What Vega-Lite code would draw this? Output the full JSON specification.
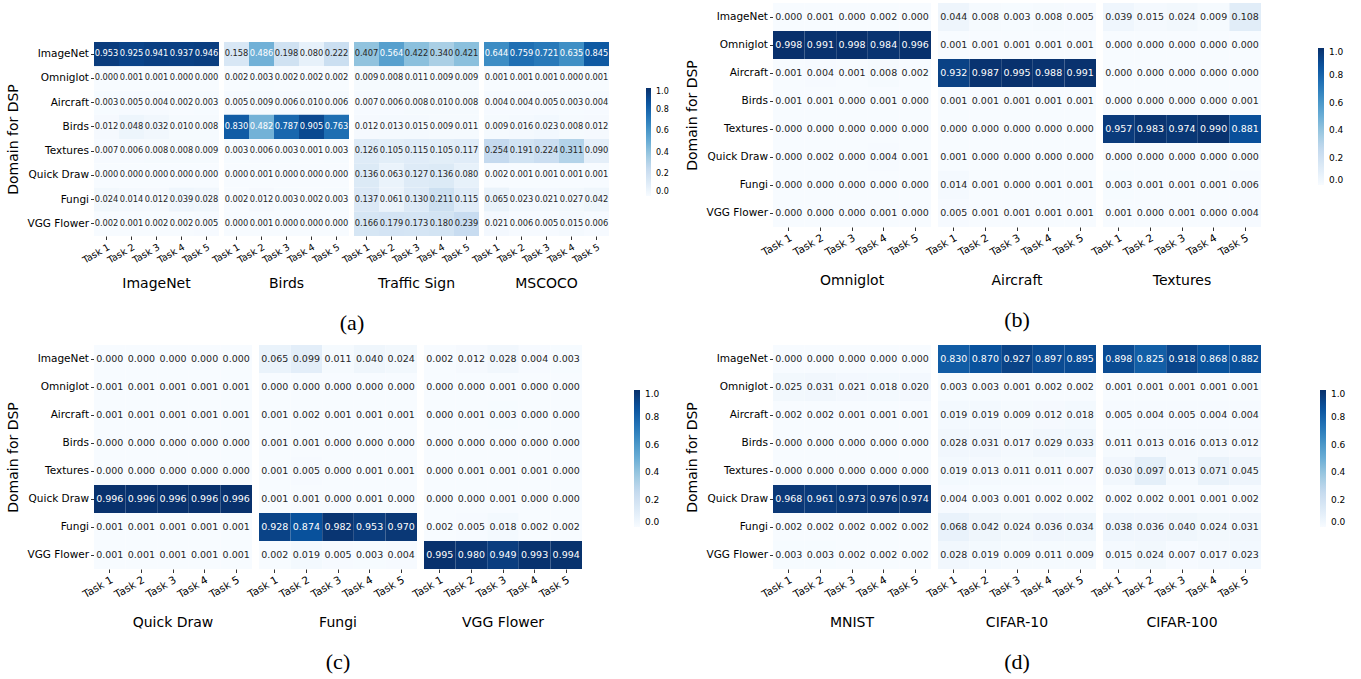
{
"$schema": "https://vega.github.io/schema/vega-lite/v6.json",
"padding": {"left": 6, "top": 3, "right": 5, "bottom": 3},
"background": "white",
"config": {
  "view": {"stroke": null},
  "font": "DejaVu Sans",
  "axis": {"domain": false, "grid": false, "ticks": true, "tickSize": 3.5, "tickColor": "#000", "tickWidth": 0.8, "labelColor": "#000", "labelFont": "DejaVu Sans", "labelFontSize": 10.5, "labelPadding": 2, "titleFont": "DejaVu Sans", "titleFontSize": 14, "titleFontWeight": "normal", "titleColor": "#000", "titlePadding": 3},
  "legend": {"labelFont": "DejaVu Sans", "labelColor": "#000"}
},
"datasets": {
"a": [
{"tgt":"ImageNet","src":"ImageNet","task":1,"v":0.953},{"tgt":"ImageNet","src":"ImageNet","task":2,"v":0.925},{"tgt":"ImageNet","src":"ImageNet","task":3,"v":0.941},{"tgt":"ImageNet","src":"ImageNet","task":4,"v":0.937},{"tgt":"ImageNet","src":"ImageNet","task":5,"v":0.946},
{"tgt":"ImageNet","src":"Omniglot","task":1,"v":0.000},{"tgt":"ImageNet","src":"Omniglot","task":2,"v":0.001},{"tgt":"ImageNet","src":"Omniglot","task":3,"v":0.001},{"tgt":"ImageNet","src":"Omniglot","task":4,"v":0.000},{"tgt":"ImageNet","src":"Omniglot","task":5,"v":0.000},
{"tgt":"ImageNet","src":"Aircraft","task":1,"v":0.003},{"tgt":"ImageNet","src":"Aircraft","task":2,"v":0.005},{"tgt":"ImageNet","src":"Aircraft","task":3,"v":0.004},{"tgt":"ImageNet","src":"Aircraft","task":4,"v":0.002},{"tgt":"ImageNet","src":"Aircraft","task":5,"v":0.003},
{"tgt":"ImageNet","src":"Birds","task":1,"v":0.012},{"tgt":"ImageNet","src":"Birds","task":2,"v":0.048},{"tgt":"ImageNet","src":"Birds","task":3,"v":0.032},{"tgt":"ImageNet","src":"Birds","task":4,"v":0.010},{"tgt":"ImageNet","src":"Birds","task":5,"v":0.008},
{"tgt":"ImageNet","src":"Textures","task":1,"v":0.007},{"tgt":"ImageNet","src":"Textures","task":2,"v":0.006},{"tgt":"ImageNet","src":"Textures","task":3,"v":0.008},{"tgt":"ImageNet","src":"Textures","task":4,"v":0.008},{"tgt":"ImageNet","src":"Textures","task":5,"v":0.009},
{"tgt":"ImageNet","src":"Quick Draw","task":1,"v":0.000},{"tgt":"ImageNet","src":"Quick Draw","task":2,"v":0.000},{"tgt":"ImageNet","src":"Quick Draw","task":3,"v":0.000},{"tgt":"ImageNet","src":"Quick Draw","task":4,"v":0.000},{"tgt":"ImageNet","src":"Quick Draw","task":5,"v":0.000},
{"tgt":"ImageNet","src":"Fungi","task":1,"v":0.024},{"tgt":"ImageNet","src":"Fungi","task":2,"v":0.014},{"tgt":"ImageNet","src":"Fungi","task":3,"v":0.012},{"tgt":"ImageNet","src":"Fungi","task":4,"v":0.039},{"tgt":"ImageNet","src":"Fungi","task":5,"v":0.028},
{"tgt":"ImageNet","src":"VGG Flower","task":1,"v":0.002},{"tgt":"ImageNet","src":"VGG Flower","task":2,"v":0.001},{"tgt":"ImageNet","src":"VGG Flower","task":3,"v":0.002},{"tgt":"ImageNet","src":"VGG Flower","task":4,"v":0.002},{"tgt":"ImageNet","src":"VGG Flower","task":5,"v":0.005},
{"tgt":"Birds","src":"ImageNet","task":1,"v":0.158},{"tgt":"Birds","src":"ImageNet","task":2,"v":0.486},{"tgt":"Birds","src":"ImageNet","task":3,"v":0.198},{"tgt":"Birds","src":"ImageNet","task":4,"v":0.080},{"tgt":"Birds","src":"ImageNet","task":5,"v":0.222},
{"tgt":"Birds","src":"Omniglot","task":1,"v":0.002},{"tgt":"Birds","src":"Omniglot","task":2,"v":0.003},{"tgt":"Birds","src":"Omniglot","task":3,"v":0.002},{"tgt":"Birds","src":"Omniglot","task":4,"v":0.002},{"tgt":"Birds","src":"Omniglot","task":5,"v":0.002},
{"tgt":"Birds","src":"Aircraft","task":1,"v":0.005},{"tgt":"Birds","src":"Aircraft","task":2,"v":0.009},{"tgt":"Birds","src":"Aircraft","task":3,"v":0.006},{"tgt":"Birds","src":"Aircraft","task":4,"v":0.010},{"tgt":"Birds","src":"Aircraft","task":5,"v":0.006},
{"tgt":"Birds","src":"Birds","task":1,"v":0.830},{"tgt":"Birds","src":"Birds","task":2,"v":0.482},{"tgt":"Birds","src":"Birds","task":3,"v":0.787},{"tgt":"Birds","src":"Birds","task":4,"v":0.905},{"tgt":"Birds","src":"Birds","task":5,"v":0.763},
{"tgt":"Birds","src":"Textures","task":1,"v":0.003},{"tgt":"Birds","src":"Textures","task":2,"v":0.006},{"tgt":"Birds","src":"Textures","task":3,"v":0.003},{"tgt":"Birds","src":"Textures","task":4,"v":0.001},{"tgt":"Birds","src":"Textures","task":5,"v":0.003},
{"tgt":"Birds","src":"Quick Draw","task":1,"v":0.000},{"tgt":"Birds","src":"Quick Draw","task":2,"v":0.001},{"tgt":"Birds","src":"Quick Draw","task":3,"v":0.000},{"tgt":"Birds","src":"Quick Draw","task":4,"v":0.000},{"tgt":"Birds","src":"Quick Draw","task":5,"v":0.000},
{"tgt":"Birds","src":"Fungi","task":1,"v":0.002},{"tgt":"Birds","src":"Fungi","task":2,"v":0.012},{"tgt":"Birds","src":"Fungi","task":3,"v":0.003},{"tgt":"Birds","src":"Fungi","task":4,"v":0.002},{"tgt":"Birds","src":"Fungi","task":5,"v":0.003},
{"tgt":"Birds","src":"VGG Flower","task":1,"v":0.000},{"tgt":"Birds","src":"VGG Flower","task":2,"v":0.001},{"tgt":"Birds","src":"VGG Flower","task":3,"v":0.000},{"tgt":"Birds","src":"VGG Flower","task":4,"v":0.000},{"tgt":"Birds","src":"VGG Flower","task":5,"v":0.000},
{"tgt":"Traffic Sign","src":"ImageNet","task":1,"v":0.407},{"tgt":"Traffic Sign","src":"ImageNet","task":2,"v":0.564},{"tgt":"Traffic Sign","src":"ImageNet","task":3,"v":0.422},{"tgt":"Traffic Sign","src":"ImageNet","task":4,"v":0.340},{"tgt":"Traffic Sign","src":"ImageNet","task":5,"v":0.421},
{"tgt":"Traffic Sign","src":"Omniglot","task":1,"v":0.009},{"tgt":"Traffic Sign","src":"Omniglot","task":2,"v":0.008},{"tgt":"Traffic Sign","src":"Omniglot","task":3,"v":0.011},{"tgt":"Traffic Sign","src":"Omniglot","task":4,"v":0.009},{"tgt":"Traffic Sign","src":"Omniglot","task":5,"v":0.009},
{"tgt":"Traffic Sign","src":"Aircraft","task":1,"v":0.007},{"tgt":"Traffic Sign","src":"Aircraft","task":2,"v":0.006},{"tgt":"Traffic Sign","src":"Aircraft","task":3,"v":0.008},{"tgt":"Traffic Sign","src":"Aircraft","task":4,"v":0.010},{"tgt":"Traffic Sign","src":"Aircraft","task":5,"v":0.008},
{"tgt":"Traffic Sign","src":"Birds","task":1,"v":0.012},{"tgt":"Traffic Sign","src":"Birds","task":2,"v":0.013},{"tgt":"Traffic Sign","src":"Birds","task":3,"v":0.015},{"tgt":"Traffic Sign","src":"Birds","task":4,"v":0.009},{"tgt":"Traffic Sign","src":"Birds","task":5,"v":0.011},
{"tgt":"Traffic Sign","src":"Textures","task":1,"v":0.126},{"tgt":"Traffic Sign","src":"Textures","task":2,"v":0.105},{"tgt":"Traffic Sign","src":"Textures","task":3,"v":0.115},{"tgt":"Traffic Sign","src":"Textures","task":4,"v":0.105},{"tgt":"Traffic Sign","src":"Textures","task":5,"v":0.117},
{"tgt":"Traffic Sign","src":"Quick Draw","task":1,"v":0.136},{"tgt":"Traffic Sign","src":"Quick Draw","task":2,"v":0.063},{"tgt":"Traffic Sign","src":"Quick Draw","task":3,"v":0.127},{"tgt":"Traffic Sign","src":"Quick Draw","task":4,"v":0.136},{"tgt":"Traffic Sign","src":"Quick Draw","task":5,"v":0.080},
{"tgt":"Traffic Sign","src":"Fungi","task":1,"v":0.137},{"tgt":"Traffic Sign","src":"Fungi","task":2,"v":0.061},{"tgt":"Traffic Sign","src":"Fungi","task":3,"v":0.130},{"tgt":"Traffic Sign","src":"Fungi","task":4,"v":0.211},{"tgt":"Traffic Sign","src":"Fungi","task":5,"v":0.115},
{"tgt":"Traffic Sign","src":"VGG Flower","task":1,"v":0.166},{"tgt":"Traffic Sign","src":"VGG Flower","task":2,"v":0.179},{"tgt":"Traffic Sign","src":"VGG Flower","task":3,"v":0.173},{"tgt":"Traffic Sign","src":"VGG Flower","task":4,"v":0.180},{"tgt":"Traffic Sign","src":"VGG Flower","task":5,"v":0.239},
{"tgt":"MSCOCO","src":"ImageNet","task":1,"v":0.644},{"tgt":"MSCOCO","src":"ImageNet","task":2,"v":0.759},{"tgt":"MSCOCO","src":"ImageNet","task":3,"v":0.721},{"tgt":"MSCOCO","src":"ImageNet","task":4,"v":0.635},{"tgt":"MSCOCO","src":"ImageNet","task":5,"v":0.845},
{"tgt":"MSCOCO","src":"Omniglot","task":1,"v":0.001},{"tgt":"MSCOCO","src":"Omniglot","task":2,"v":0.001},{"tgt":"MSCOCO","src":"Omniglot","task":3,"v":0.001},{"tgt":"MSCOCO","src":"Omniglot","task":4,"v":0.000},{"tgt":"MSCOCO","src":"Omniglot","task":5,"v":0.001},
{"tgt":"MSCOCO","src":"Aircraft","task":1,"v":0.004},{"tgt":"MSCOCO","src":"Aircraft","task":2,"v":0.004},{"tgt":"MSCOCO","src":"Aircraft","task":3,"v":0.005},{"tgt":"MSCOCO","src":"Aircraft","task":4,"v":0.003},{"tgt":"MSCOCO","src":"Aircraft","task":5,"v":0.004},
{"tgt":"MSCOCO","src":"Birds","task":1,"v":0.009},{"tgt":"MSCOCO","src":"Birds","task":2,"v":0.016},{"tgt":"MSCOCO","src":"Birds","task":3,"v":0.023},{"tgt":"MSCOCO","src":"Birds","task":4,"v":0.008},{"tgt":"MSCOCO","src":"Birds","task":5,"v":0.012},
{"tgt":"MSCOCO","src":"Textures","task":1,"v":0.254},{"tgt":"MSCOCO","src":"Textures","task":2,"v":0.191},{"tgt":"MSCOCO","src":"Textures","task":3,"v":0.224},{"tgt":"MSCOCO","src":"Textures","task":4,"v":0.311},{"tgt":"MSCOCO","src":"Textures","task":5,"v":0.090},
{"tgt":"MSCOCO","src":"Quick Draw","task":1,"v":0.002},{"tgt":"MSCOCO","src":"Quick Draw","task":2,"v":0.001},{"tgt":"MSCOCO","src":"Quick Draw","task":3,"v":0.001},{"tgt":"MSCOCO","src":"Quick Draw","task":4,"v":0.001},{"tgt":"MSCOCO","src":"Quick Draw","task":5,"v":0.001},
{"tgt":"MSCOCO","src":"Fungi","task":1,"v":0.065},{"tgt":"MSCOCO","src":"Fungi","task":2,"v":0.023},{"tgt":"MSCOCO","src":"Fungi","task":3,"v":0.021},{"tgt":"MSCOCO","src":"Fungi","task":4,"v":0.027},{"tgt":"MSCOCO","src":"Fungi","task":5,"v":0.042},
{"tgt":"MSCOCO","src":"VGG Flower","task":1,"v":0.021},{"tgt":"MSCOCO","src":"VGG Flower","task":2,"v":0.006},{"tgt":"MSCOCO","src":"VGG Flower","task":3,"v":0.005},{"tgt":"MSCOCO","src":"VGG Flower","task":4,"v":0.015},{"tgt":"MSCOCO","src":"VGG Flower","task":5,"v":0.006}
],
"b": [
{"tgt":"Omniglot","src":"ImageNet","task":1,"v":0.000},{"tgt":"Omniglot","src":"ImageNet","task":2,"v":0.001},{"tgt":"Omniglot","src":"ImageNet","task":3,"v":0.000},{"tgt":"Omniglot","src":"ImageNet","task":4,"v":0.002},{"tgt":"Omniglot","src":"ImageNet","task":5,"v":0.000},
{"tgt":"Omniglot","src":"Omniglot","task":1,"v":0.998},{"tgt":"Omniglot","src":"Omniglot","task":2,"v":0.991},{"tgt":"Omniglot","src":"Omniglot","task":3,"v":0.998},{"tgt":"Omniglot","src":"Omniglot","task":4,"v":0.984},{"tgt":"Omniglot","src":"Omniglot","task":5,"v":0.996},
{"tgt":"Omniglot","src":"Aircraft","task":1,"v":0.001},{"tgt":"Omniglot","src":"Aircraft","task":2,"v":0.004},{"tgt":"Omniglot","src":"Aircraft","task":3,"v":0.001},{"tgt":"Omniglot","src":"Aircraft","task":4,"v":0.008},{"tgt":"Omniglot","src":"Aircraft","task":5,"v":0.002},
{"tgt":"Omniglot","src":"Birds","task":1,"v":0.001},{"tgt":"Omniglot","src":"Birds","task":2,"v":0.001},{"tgt":"Omniglot","src":"Birds","task":3,"v":0.000},{"tgt":"Omniglot","src":"Birds","task":4,"v":0.001},{"tgt":"Omniglot","src":"Birds","task":5,"v":0.000},
{"tgt":"Omniglot","src":"Textures","task":1,"v":0.000},{"tgt":"Omniglot","src":"Textures","task":2,"v":0.000},{"tgt":"Omniglot","src":"Textures","task":3,"v":0.000},{"tgt":"Omniglot","src":"Textures","task":4,"v":0.000},{"tgt":"Omniglot","src":"Textures","task":5,"v":0.000},
{"tgt":"Omniglot","src":"Quick Draw","task":1,"v":0.000},{"tgt":"Omniglot","src":"Quick Draw","task":2,"v":0.002},{"tgt":"Omniglot","src":"Quick Draw","task":3,"v":0.000},{"tgt":"Omniglot","src":"Quick Draw","task":4,"v":0.004},{"tgt":"Omniglot","src":"Quick Draw","task":5,"v":0.001},
{"tgt":"Omniglot","src":"Fungi","task":1,"v":0.000},{"tgt":"Omniglot","src":"Fungi","task":2,"v":0.000},{"tgt":"Omniglot","src":"Fungi","task":3,"v":0.000},{"tgt":"Omniglot","src":"Fungi","task":4,"v":0.000},{"tgt":"Omniglot","src":"Fungi","task":5,"v":0.000},
{"tgt":"Omniglot","src":"VGG Flower","task":1,"v":0.000},{"tgt":"Omniglot","src":"VGG Flower","task":2,"v":0.000},{"tgt":"Omniglot","src":"VGG Flower","task":3,"v":0.000},{"tgt":"Omniglot","src":"VGG Flower","task":4,"v":0.001},{"tgt":"Omniglot","src":"VGG Flower","task":5,"v":0.000},
{"tgt":"Aircraft","src":"ImageNet","task":1,"v":0.044},{"tgt":"Aircraft","src":"ImageNet","task":2,"v":0.008},{"tgt":"Aircraft","src":"ImageNet","task":3,"v":0.003},{"tgt":"Aircraft","src":"ImageNet","task":4,"v":0.008},{"tgt":"Aircraft","src":"ImageNet","task":5,"v":0.005},
{"tgt":"Aircraft","src":"Omniglot","task":1,"v":0.001},{"tgt":"Aircraft","src":"Omniglot","task":2,"v":0.001},{"tgt":"Aircraft","src":"Omniglot","task":3,"v":0.001},{"tgt":"Aircraft","src":"Omniglot","task":4,"v":0.001},{"tgt":"Aircraft","src":"Omniglot","task":5,"v":0.001},
{"tgt":"Aircraft","src":"Aircraft","task":1,"v":0.932},{"tgt":"Aircraft","src":"Aircraft","task":2,"v":0.987},{"tgt":"Aircraft","src":"Aircraft","task":3,"v":0.995},{"tgt":"Aircraft","src":"Aircraft","task":4,"v":0.988},{"tgt":"Aircraft","src":"Aircraft","task":5,"v":0.991},
{"tgt":"Aircraft","src":"Birds","task":1,"v":0.001},{"tgt":"Aircraft","src":"Birds","task":2,"v":0.001},{"tgt":"Aircraft","src":"Birds","task":3,"v":0.001},{"tgt":"Aircraft","src":"Birds","task":4,"v":0.001},{"tgt":"Aircraft","src":"Birds","task":5,"v":0.001},
{"tgt":"Aircraft","src":"Textures","task":1,"v":0.000},{"tgt":"Aircraft","src":"Textures","task":2,"v":0.000},{"tgt":"Aircraft","src":"Textures","task":3,"v":0.000},{"tgt":"Aircraft","src":"Textures","task":4,"v":0.000},{"tgt":"Aircraft","src":"Textures","task":5,"v":0.000},
{"tgt":"Aircraft","src":"Quick Draw","task":1,"v":0.001},{"tgt":"Aircraft","src":"Quick Draw","task":2,"v":0.000},{"tgt":"Aircraft","src":"Quick Draw","task":3,"v":0.000},{"tgt":"Aircraft","src":"Quick Draw","task":4,"v":0.000},{"tgt":"Aircraft","src":"Quick Draw","task":5,"v":0.000},
{"tgt":"Aircraft","src":"Fungi","task":1,"v":0.014},{"tgt":"Aircraft","src":"Fungi","task":2,"v":0.001},{"tgt":"Aircraft","src":"Fungi","task":3,"v":0.000},{"tgt":"Aircraft","src":"Fungi","task":4,"v":0.001},{"tgt":"Aircraft","src":"Fungi","task":5,"v":0.001},
{"tgt":"Aircraft","src":"VGG Flower","task":1,"v":0.005},{"tgt":"Aircraft","src":"VGG Flower","task":2,"v":0.001},{"tgt":"Aircraft","src":"VGG Flower","task":3,"v":0.001},{"tgt":"Aircraft","src":"VGG Flower","task":4,"v":0.001},{"tgt":"Aircraft","src":"VGG Flower","task":5,"v":0.001},
{"tgt":"Textures","src":"ImageNet","task":1,"v":0.039},{"tgt":"Textures","src":"ImageNet","task":2,"v":0.015},{"tgt":"Textures","src":"ImageNet","task":3,"v":0.024},{"tgt":"Textures","src":"ImageNet","task":4,"v":0.009},{"tgt":"Textures","src":"ImageNet","task":5,"v":0.108},
{"tgt":"Textures","src":"Omniglot","task":1,"v":0.000},{"tgt":"Textures","src":"Omniglot","task":2,"v":0.000},{"tgt":"Textures","src":"Omniglot","task":3,"v":0.000},{"tgt":"Textures","src":"Omniglot","task":4,"v":0.000},{"tgt":"Textures","src":"Omniglot","task":5,"v":0.000},
{"tgt":"Textures","src":"Aircraft","task":1,"v":0.000},{"tgt":"Textures","src":"Aircraft","task":2,"v":0.000},{"tgt":"Textures","src":"Aircraft","task":3,"v":0.000},{"tgt":"Textures","src":"Aircraft","task":4,"v":0.000},{"tgt":"Textures","src":"Aircraft","task":5,"v":0.000},
{"tgt":"Textures","src":"Birds","task":1,"v":0.000},{"tgt":"Textures","src":"Birds","task":2,"v":0.000},{"tgt":"Textures","src":"Birds","task":3,"v":0.000},{"tgt":"Textures","src":"Birds","task":4,"v":0.000},{"tgt":"Textures","src":"Birds","task":5,"v":0.001},
{"tgt":"Textures","src":"Textures","task":1,"v":0.957},{"tgt":"Textures","src":"Textures","task":2,"v":0.983},{"tgt":"Textures","src":"Textures","task":3,"v":0.974},{"tgt":"Textures","src":"Textures","task":4,"v":0.990},{"tgt":"Textures","src":"Textures","task":5,"v":0.881},
{"tgt":"Textures","src":"Quick Draw","task":1,"v":0.000},{"tgt":"Textures","src":"Quick Draw","task":2,"v":0.000},{"tgt":"Textures","src":"Quick Draw","task":3,"v":0.000},{"tgt":"Textures","src":"Quick Draw","task":4,"v":0.000},{"tgt":"Textures","src":"Quick Draw","task":5,"v":0.000},
{"tgt":"Textures","src":"Fungi","task":1,"v":0.003},{"tgt":"Textures","src":"Fungi","task":2,"v":0.001},{"tgt":"Textures","src":"Fungi","task":3,"v":0.001},{"tgt":"Textures","src":"Fungi","task":4,"v":0.001},{"tgt":"Textures","src":"Fungi","task":5,"v":0.006},
{"tgt":"Textures","src":"VGG Flower","task":1,"v":0.001},{"tgt":"Textures","src":"VGG Flower","task":2,"v":0.000},{"tgt":"Textures","src":"VGG Flower","task":3,"v":0.001},{"tgt":"Textures","src":"VGG Flower","task":4,"v":0.000},{"tgt":"Textures","src":"VGG Flower","task":5,"v":0.004}
],
"c": [
{"tgt":"Quick Draw","src":"ImageNet","task":1,"v":0.000},{"tgt":"Quick Draw","src":"ImageNet","task":2,"v":0.000},{"tgt":"Quick Draw","src":"ImageNet","task":3,"v":0.000},{"tgt":"Quick Draw","src":"ImageNet","task":4,"v":0.000},{"tgt":"Quick Draw","src":"ImageNet","task":5,"v":0.000},
{"tgt":"Quick Draw","src":"Omniglot","task":1,"v":0.001},{"tgt":"Quick Draw","src":"Omniglot","task":2,"v":0.001},{"tgt":"Quick Draw","src":"Omniglot","task":3,"v":0.001},{"tgt":"Quick Draw","src":"Omniglot","task":4,"v":0.001},{"tgt":"Quick Draw","src":"Omniglot","task":5,"v":0.001},
{"tgt":"Quick Draw","src":"Aircraft","task":1,"v":0.001},{"tgt":"Quick Draw","src":"Aircraft","task":2,"v":0.001},{"tgt":"Quick Draw","src":"Aircraft","task":3,"v":0.001},{"tgt":"Quick Draw","src":"Aircraft","task":4,"v":0.001},{"tgt":"Quick Draw","src":"Aircraft","task":5,"v":0.001},
{"tgt":"Quick Draw","src":"Birds","task":1,"v":0.000},{"tgt":"Quick Draw","src":"Birds","task":2,"v":0.000},{"tgt":"Quick Draw","src":"Birds","task":3,"v":0.000},{"tgt":"Quick Draw","src":"Birds","task":4,"v":0.000},{"tgt":"Quick Draw","src":"Birds","task":5,"v":0.000},
{"tgt":"Quick Draw","src":"Textures","task":1,"v":0.000},{"tgt":"Quick Draw","src":"Textures","task":2,"v":0.000},{"tgt":"Quick Draw","src":"Textures","task":3,"v":0.000},{"tgt":"Quick Draw","src":"Textures","task":4,"v":0.000},{"tgt":"Quick Draw","src":"Textures","task":5,"v":0.000},
{"tgt":"Quick Draw","src":"Quick Draw","task":1,"v":0.996},{"tgt":"Quick Draw","src":"Quick Draw","task":2,"v":0.996},{"tgt":"Quick Draw","src":"Quick Draw","task":3,"v":0.996},{"tgt":"Quick Draw","src":"Quick Draw","task":4,"v":0.996},{"tgt":"Quick Draw","src":"Quick Draw","task":5,"v":0.996},
{"tgt":"Quick Draw","src":"Fungi","task":1,"v":0.001},{"tgt":"Quick Draw","src":"Fungi","task":2,"v":0.001},{"tgt":"Quick Draw","src":"Fungi","task":3,"v":0.001},{"tgt":"Quick Draw","src":"Fungi","task":4,"v":0.001},{"tgt":"Quick Draw","src":"Fungi","task":5,"v":0.001},
{"tgt":"Quick Draw","src":"VGG Flower","task":1,"v":0.001},{"tgt":"Quick Draw","src":"VGG Flower","task":2,"v":0.001},{"tgt":"Quick Draw","src":"VGG Flower","task":3,"v":0.001},{"tgt":"Quick Draw","src":"VGG Flower","task":4,"v":0.001},{"tgt":"Quick Draw","src":"VGG Flower","task":5,"v":0.001},
{"tgt":"Fungi","src":"ImageNet","task":1,"v":0.065},{"tgt":"Fungi","src":"ImageNet","task":2,"v":0.099},{"tgt":"Fungi","src":"ImageNet","task":3,"v":0.011},{"tgt":"Fungi","src":"ImageNet","task":4,"v":0.040},{"tgt":"Fungi","src":"ImageNet","task":5,"v":0.024},
{"tgt":"Fungi","src":"Omniglot","task":1,"v":0.000},{"tgt":"Fungi","src":"Omniglot","task":2,"v":0.000},{"tgt":"Fungi","src":"Omniglot","task":3,"v":0.000},{"tgt":"Fungi","src":"Omniglot","task":4,"v":0.000},{"tgt":"Fungi","src":"Omniglot","task":5,"v":0.000},
{"tgt":"Fungi","src":"Aircraft","task":1,"v":0.001},{"tgt":"Fungi","src":"Aircraft","task":2,"v":0.002},{"tgt":"Fungi","src":"Aircraft","task":3,"v":0.001},{"tgt":"Fungi","src":"Aircraft","task":4,"v":0.001},{"tgt":"Fungi","src":"Aircraft","task":5,"v":0.001},
{"tgt":"Fungi","src":"Birds","task":1,"v":0.001},{"tgt":"Fungi","src":"Birds","task":2,"v":0.001},{"tgt":"Fungi","src":"Birds","task":3,"v":0.000},{"tgt":"Fungi","src":"Birds","task":4,"v":0.000},{"tgt":"Fungi","src":"Birds","task":5,"v":0.000},
{"tgt":"Fungi","src":"Textures","task":1,"v":0.001},{"tgt":"Fungi","src":"Textures","task":2,"v":0.005},{"tgt":"Fungi","src":"Textures","task":3,"v":0.000},{"tgt":"Fungi","src":"Textures","task":4,"v":0.001},{"tgt":"Fungi","src":"Textures","task":5,"v":0.001},
{"tgt":"Fungi","src":"Quick Draw","task":1,"v":0.001},{"tgt":"Fungi","src":"Quick Draw","task":2,"v":0.001},{"tgt":"Fungi","src":"Quick Draw","task":3,"v":0.000},{"tgt":"Fungi","src":"Quick Draw","task":4,"v":0.001},{"tgt":"Fungi","src":"Quick Draw","task":5,"v":0.000},
{"tgt":"Fungi","src":"Fungi","task":1,"v":0.928},{"tgt":"Fungi","src":"Fungi","task":2,"v":0.874},{"tgt":"Fungi","src":"Fungi","task":3,"v":0.982},{"tgt":"Fungi","src":"Fungi","task":4,"v":0.953},{"tgt":"Fungi","src":"Fungi","task":5,"v":0.970},
{"tgt":"Fungi","src":"VGG Flower","task":1,"v":0.002},{"tgt":"Fungi","src":"VGG Flower","task":2,"v":0.019},{"tgt":"Fungi","src":"VGG Flower","task":3,"v":0.005},{"tgt":"Fungi","src":"VGG Flower","task":4,"v":0.003},{"tgt":"Fungi","src":"VGG Flower","task":5,"v":0.004},
{"tgt":"VGG Flower","src":"ImageNet","task":1,"v":0.002},{"tgt":"VGG Flower","src":"ImageNet","task":2,"v":0.012},{"tgt":"VGG Flower","src":"ImageNet","task":3,"v":0.028},{"tgt":"VGG Flower","src":"ImageNet","task":4,"v":0.004},{"tgt":"VGG Flower","src":"ImageNet","task":5,"v":0.003},
{"tgt":"VGG Flower","src":"Omniglot","task":1,"v":0.000},{"tgt":"VGG Flower","src":"Omniglot","task":2,"v":0.000},{"tgt":"VGG Flower","src":"Omniglot","task":3,"v":0.001},{"tgt":"VGG Flower","src":"Omniglot","task":4,"v":0.000},{"tgt":"VGG Flower","src":"Omniglot","task":5,"v":0.000},
{"tgt":"VGG Flower","src":"Aircraft","task":1,"v":0.000},{"tgt":"VGG Flower","src":"Aircraft","task":2,"v":0.001},{"tgt":"VGG Flower","src":"Aircraft","task":3,"v":0.003},{"tgt":"VGG Flower","src":"Aircraft","task":4,"v":0.000},{"tgt":"VGG Flower","src":"Aircraft","task":5,"v":0.000},
{"tgt":"VGG Flower","src":"Birds","task":1,"v":0.000},{"tgt":"VGG Flower","src":"Birds","task":2,"v":0.000},{"tgt":"VGG Flower","src":"Birds","task":3,"v":0.000},{"tgt":"VGG Flower","src":"Birds","task":4,"v":0.000},{"tgt":"VGG Flower","src":"Birds","task":5,"v":0.000},
{"tgt":"VGG Flower","src":"Textures","task":1,"v":0.000},{"tgt":"VGG Flower","src":"Textures","task":2,"v":0.001},{"tgt":"VGG Flower","src":"Textures","task":3,"v":0.001},{"tgt":"VGG Flower","src":"Textures","task":4,"v":0.001},{"tgt":"VGG Flower","src":"Textures","task":5,"v":0.000},
{"tgt":"VGG Flower","src":"Quick Draw","task":1,"v":0.000},{"tgt":"VGG Flower","src":"Quick Draw","task":2,"v":0.000},{"tgt":"VGG Flower","src":"Quick Draw","task":3,"v":0.001},{"tgt":"VGG Flower","src":"Quick Draw","task":4,"v":0.000},{"tgt":"VGG Flower","src":"Quick Draw","task":5,"v":0.000},
{"tgt":"VGG Flower","src":"Fungi","task":1,"v":0.002},{"tgt":"VGG Flower","src":"Fungi","task":2,"v":0.005},{"tgt":"VGG Flower","src":"Fungi","task":3,"v":0.018},{"tgt":"VGG Flower","src":"Fungi","task":4,"v":0.002},{"tgt":"VGG Flower","src":"Fungi","task":5,"v":0.002},
{"tgt":"VGG Flower","src":"VGG Flower","task":1,"v":0.995},{"tgt":"VGG Flower","src":"VGG Flower","task":2,"v":0.980},{"tgt":"VGG Flower","src":"VGG Flower","task":3,"v":0.949},{"tgt":"VGG Flower","src":"VGG Flower","task":4,"v":0.993},{"tgt":"VGG Flower","src":"VGG Flower","task":5,"v":0.994}
],
"d": [
{"tgt":"MNIST","src":"ImageNet","task":1,"v":0.000},{"tgt":"MNIST","src":"ImageNet","task":2,"v":0.000},{"tgt":"MNIST","src":"ImageNet","task":3,"v":0.000},{"tgt":"MNIST","src":"ImageNet","task":4,"v":0.000},{"tgt":"MNIST","src":"ImageNet","task":5,"v":0.000},
{"tgt":"MNIST","src":"Omniglot","task":1,"v":0.025},{"tgt":"MNIST","src":"Omniglot","task":2,"v":0.031},{"tgt":"MNIST","src":"Omniglot","task":3,"v":0.021},{"tgt":"MNIST","src":"Omniglot","task":4,"v":0.018},{"tgt":"MNIST","src":"Omniglot","task":5,"v":0.020},
{"tgt":"MNIST","src":"Aircraft","task":1,"v":0.002},{"tgt":"MNIST","src":"Aircraft","task":2,"v":0.002},{"tgt":"MNIST","src":"Aircraft","task":3,"v":0.001},{"tgt":"MNIST","src":"Aircraft","task":4,"v":0.001},{"tgt":"MNIST","src":"Aircraft","task":5,"v":0.001},
{"tgt":"MNIST","src":"Birds","task":1,"v":0.000},{"tgt":"MNIST","src":"Birds","task":2,"v":0.000},{"tgt":"MNIST","src":"Birds","task":3,"v":0.000},{"tgt":"MNIST","src":"Birds","task":4,"v":0.000},{"tgt":"MNIST","src":"Birds","task":5,"v":0.000},
{"tgt":"MNIST","src":"Textures","task":1,"v":0.000},{"tgt":"MNIST","src":"Textures","task":2,"v":0.000},{"tgt":"MNIST","src":"Textures","task":3,"v":0.000},{"tgt":"MNIST","src":"Textures","task":4,"v":0.000},{"tgt":"MNIST","src":"Textures","task":5,"v":0.000},
{"tgt":"MNIST","src":"Quick Draw","task":1,"v":0.968},{"tgt":"MNIST","src":"Quick Draw","task":2,"v":0.961},{"tgt":"MNIST","src":"Quick Draw","task":3,"v":0.973},{"tgt":"MNIST","src":"Quick Draw","task":4,"v":0.976},{"tgt":"MNIST","src":"Quick Draw","task":5,"v":0.974},
{"tgt":"MNIST","src":"Fungi","task":1,"v":0.002},{"tgt":"MNIST","src":"Fungi","task":2,"v":0.002},{"tgt":"MNIST","src":"Fungi","task":3,"v":0.002},{"tgt":"MNIST","src":"Fungi","task":4,"v":0.002},{"tgt":"MNIST","src":"Fungi","task":5,"v":0.002},
{"tgt":"MNIST","src":"VGG Flower","task":1,"v":0.003},{"tgt":"MNIST","src":"VGG Flower","task":2,"v":0.003},{"tgt":"MNIST","src":"VGG Flower","task":3,"v":0.002},{"tgt":"MNIST","src":"VGG Flower","task":4,"v":0.002},{"tgt":"MNIST","src":"VGG Flower","task":5,"v":0.002},
{"tgt":"CIFAR-10","src":"ImageNet","task":1,"v":0.830},{"tgt":"CIFAR-10","src":"ImageNet","task":2,"v":0.870},{"tgt":"CIFAR-10","src":"ImageNet","task":3,"v":0.927},{"tgt":"CIFAR-10","src":"ImageNet","task":4,"v":0.897},{"tgt":"CIFAR-10","src":"ImageNet","task":5,"v":0.895},
{"tgt":"CIFAR-10","src":"Omniglot","task":1,"v":0.003},{"tgt":"CIFAR-10","src":"Omniglot","task":2,"v":0.003},{"tgt":"CIFAR-10","src":"Omniglot","task":3,"v":0.001},{"tgt":"CIFAR-10","src":"Omniglot","task":4,"v":0.002},{"tgt":"CIFAR-10","src":"Omniglot","task":5,"v":0.002},
{"tgt":"CIFAR-10","src":"Aircraft","task":1,"v":0.019},{"tgt":"CIFAR-10","src":"Aircraft","task":2,"v":0.019},{"tgt":"CIFAR-10","src":"Aircraft","task":3,"v":0.009},{"tgt":"CIFAR-10","src":"Aircraft","task":4,"v":0.012},{"tgt":"CIFAR-10","src":"Aircraft","task":5,"v":0.018},
{"tgt":"CIFAR-10","src":"Birds","task":1,"v":0.028},{"tgt":"CIFAR-10","src":"Birds","task":2,"v":0.031},{"tgt":"CIFAR-10","src":"Birds","task":3,"v":0.017},{"tgt":"CIFAR-10","src":"Birds","task":4,"v":0.029},{"tgt":"CIFAR-10","src":"Birds","task":5,"v":0.033},
{"tgt":"CIFAR-10","src":"Textures","task":1,"v":0.019},{"tgt":"CIFAR-10","src":"Textures","task":2,"v":0.013},{"tgt":"CIFAR-10","src":"Textures","task":3,"v":0.011},{"tgt":"CIFAR-10","src":"Textures","task":4,"v":0.011},{"tgt":"CIFAR-10","src":"Textures","task":5,"v":0.007},
{"tgt":"CIFAR-10","src":"Quick Draw","task":1,"v":0.004},{"tgt":"CIFAR-10","src":"Quick Draw","task":2,"v":0.003},{"tgt":"CIFAR-10","src":"Quick Draw","task":3,"v":0.001},{"tgt":"CIFAR-10","src":"Quick Draw","task":4,"v":0.002},{"tgt":"CIFAR-10","src":"Quick Draw","task":5,"v":0.002},
{"tgt":"CIFAR-10","src":"Fungi","task":1,"v":0.068},{"tgt":"CIFAR-10","src":"Fungi","task":2,"v":0.042},{"tgt":"CIFAR-10","src":"Fungi","task":3,"v":0.024},{"tgt":"CIFAR-10","src":"Fungi","task":4,"v":0.036},{"tgt":"CIFAR-10","src":"Fungi","task":5,"v":0.034},
{"tgt":"CIFAR-10","src":"VGG Flower","task":1,"v":0.028},{"tgt":"CIFAR-10","src":"VGG Flower","task":2,"v":0.019},{"tgt":"CIFAR-10","src":"VGG Flower","task":3,"v":0.009},{"tgt":"CIFAR-10","src":"VGG Flower","task":4,"v":0.011},{"tgt":"CIFAR-10","src":"VGG Flower","task":5,"v":0.009},
{"tgt":"CIFAR-100","src":"ImageNet","task":1,"v":0.898},{"tgt":"CIFAR-100","src":"ImageNet","task":2,"v":0.825},{"tgt":"CIFAR-100","src":"ImageNet","task":3,"v":0.918},{"tgt":"CIFAR-100","src":"ImageNet","task":4,"v":0.868},{"tgt":"CIFAR-100","src":"ImageNet","task":5,"v":0.882},
{"tgt":"CIFAR-100","src":"Omniglot","task":1,"v":0.001},{"tgt":"CIFAR-100","src":"Omniglot","task":2,"v":0.001},{"tgt":"CIFAR-100","src":"Omniglot","task":3,"v":0.001},{"tgt":"CIFAR-100","src":"Omniglot","task":4,"v":0.001},{"tgt":"CIFAR-100","src":"Omniglot","task":5,"v":0.001},
{"tgt":"CIFAR-100","src":"Aircraft","task":1,"v":0.005},{"tgt":"CIFAR-100","src":"Aircraft","task":2,"v":0.004},{"tgt":"CIFAR-100","src":"Aircraft","task":3,"v":0.005},{"tgt":"CIFAR-100","src":"Aircraft","task":4,"v":0.004},{"tgt":"CIFAR-100","src":"Aircraft","task":5,"v":0.004},
{"tgt":"CIFAR-100","src":"Birds","task":1,"v":0.011},{"tgt":"CIFAR-100","src":"Birds","task":2,"v":0.013},{"tgt":"CIFAR-100","src":"Birds","task":3,"v":0.016},{"tgt":"CIFAR-100","src":"Birds","task":4,"v":0.013},{"tgt":"CIFAR-100","src":"Birds","task":5,"v":0.012},
{"tgt":"CIFAR-100","src":"Textures","task":1,"v":0.030},{"tgt":"CIFAR-100","src":"Textures","task":2,"v":0.097},{"tgt":"CIFAR-100","src":"Textures","task":3,"v":0.013},{"tgt":"CIFAR-100","src":"Textures","task":4,"v":0.071},{"tgt":"CIFAR-100","src":"Textures","task":5,"v":0.045},
{"tgt":"CIFAR-100","src":"Quick Draw","task":1,"v":0.002},{"tgt":"CIFAR-100","src":"Quick Draw","task":2,"v":0.002},{"tgt":"CIFAR-100","src":"Quick Draw","task":3,"v":0.001},{"tgt":"CIFAR-100","src":"Quick Draw","task":4,"v":0.001},{"tgt":"CIFAR-100","src":"Quick Draw","task":5,"v":0.002},
{"tgt":"CIFAR-100","src":"Fungi","task":1,"v":0.038},{"tgt":"CIFAR-100","src":"Fungi","task":2,"v":0.036},{"tgt":"CIFAR-100","src":"Fungi","task":3,"v":0.040},{"tgt":"CIFAR-100","src":"Fungi","task":4,"v":0.024},{"tgt":"CIFAR-100","src":"Fungi","task":5,"v":0.031},
{"tgt":"CIFAR-100","src":"VGG Flower","task":1,"v":0.015},{"tgt":"CIFAR-100","src":"VGG Flower","task":2,"v":0.024},{"tgt":"CIFAR-100","src":"VGG Flower","task":3,"v":0.007},{"tgt":"CIFAR-100","src":"VGG Flower","task":4,"v":0.017},{"tgt":"CIFAR-100","src":"VGG Flower","task":5,"v":0.023}
]
},
"columns": 2,
"spacing": {"row": 11, "column": 16},
"concat": [
{
  "data": {"name": "a"},
  "facet": {"column": {"field": "tgt", "type": "nominal", "sort": ["ImageNet","Birds","Traffic Sign","MSCOCO"], "title": "(a)",
    "header": {"labelOrient": "bottom", "labelFont": "DejaVu Sans", "labelFontSize": 14, "labelColor": "#000", "labelPadding": 12,
               "titleOrient": "bottom", "titleFont": "Liberation Serif", "titleFontSize": 22, "titleFontWeight": "normal", "titleColor": "#000", "titlePadding": 12}}},
  "spacing": 5,
  "spec": {
    "width": 125, "height": 233,
    "encoding": {
      "x": {"field": "task", "type": "ordinal", "scale": {"paddingInner": 0, "paddingOuter": 0}, "axis": {"title": null, "labelAngle": -30, "labelAlign": "right", "labelBaseline": "top", "labelFontSize": 9.5, "labelExpr": "'Task ' + datum.value"}},
      "y": {"field": "src", "type": "nominal", "sort": ["ImageNet","Omniglot","Aircraft","Birds","Textures","Quick Draw","Fungi","VGG Flower"], "scale": {"paddingInner": 0, "paddingOuter": 0, "range": [39, 233]}, "axis": {"title": "Domain for DSP", "titlePadding": 6}}
    },
    "layer": [
      {"mark": {"type": "rect"}, "encoding": {"color": {"field": "v", "type": "quantitative",
        "scale": {"domain": [0,0.125,0.25,0.375,0.5,0.625,0.75,0.875,1], "range": ["#f7fbff","#deebf7","#c6dbef","#9ecae1","#6baed6","#4292c6","#2171b5","#08519c","#08306b"]},
        "legend": {"orient": "none", "legendX": 552, "legendY": 85, "title": null, "direction": "vertical", "gradientLength": 108, "gradientThickness": 5, "gradientStrokeWidth": 0, "values": [0,0.2,0.4,0.6,0.8,1], "format": ".1f", "labelFontSize": 8, "labelOffset": 5}}}},
      {"mark": {"type": "text", "fontSize": 8.3, "font": "DejaVu Sans"}, "encoding": {"text": {"field": "v", "type": "quantitative", "format": ".3f"}, "color": {"condition": {"test": "datum.v > 0.45", "value": "#ffffff"}, "value": "#262626"}}}
    ]
  }
},
{
  "data": {"name": "b"},
  "facet": {"column": {"field": "tgt", "type": "nominal", "sort": ["Omniglot","Aircraft","Textures"], "title": "(b)",
    "header": {"labelOrient": "bottom", "labelFont": "DejaVu Sans", "labelFontSize": 14, "labelColor": "#000", "labelPadding": 16,
               "titleOrient": "bottom", "titleFont": "Liberation Serif", "titleFontSize": 22, "titleFontWeight": "normal", "titleColor": "#000", "titlePadding": 12}}},
  "spacing": 7,
  "spec": {
    "width": 158, "height": 224,
    "encoding": {
      "x": {"field": "task", "type": "ordinal", "scale": {"paddingInner": 0, "paddingOuter": 0}, "axis": {"title": null, "labelAngle": -30, "labelAlign": "right", "labelBaseline": "top", "labelFontSize": 10.5, "labelExpr": "'Task ' + datum.value"}},
      "y": {"field": "src", "type": "nominal", "sort": ["ImageNet","Omniglot","Aircraft","Birds","Textures","Quick Draw","Fungi","VGG Flower"], "scale": {"paddingInner": 0, "paddingOuter": 0}, "axis": {"title": "Domain for DSP", "titlePadding": 6}}
    },
    "layer": [
      {"mark": {"type": "rect"}, "encoding": {"color": {"field": "v", "type": "quantitative",
        "scale": {"domain": [0,0.125,0.25,0.375,0.5,0.625,0.75,0.875,1], "range": ["#f7fbff","#deebf7","#c6dbef","#9ecae1","#6baed6","#4292c6","#2171b5","#08519c","#08306b"]},
        "legend": {"orient": "none", "legendX": 545, "legendY": 45, "title": null, "direction": "vertical", "gradientLength": 137, "gradientThickness": 6, "gradientStrokeWidth": 0, "values": [0,0.2,0.4,0.6,0.8,1], "format": ".1f", "labelFontSize": 9, "labelOffset": 5}}}},
      {"mark": {"type": "text", "fontSize": 9.5, "font": "DejaVu Sans"}, "encoding": {"text": {"field": "v", "type": "quantitative", "format": ".3f"}, "color": {"condition": {"test": "datum.v > 0.45", "value": "#ffffff"}, "value": "#262626"}}}
    ]
  }
},
{
  "data": {"name": "c"},
  "facet": {"column": {"field": "tgt", "type": "nominal", "sort": ["Quick Draw","Fungi","VGG Flower"], "title": "(c)",
    "header": {"labelOrient": "bottom", "labelFont": "DejaVu Sans", "labelFontSize": 14, "labelColor": "#000", "labelPadding": 16,
               "titleOrient": "bottom", "titleFont": "Liberation Serif", "titleFontSize": 22, "titleFontWeight": "normal", "titleColor": "#000", "titlePadding": 12}}},
  "spacing": 7,
  "spec": {
    "width": 158, "height": 224,
    "encoding": {
      "x": {"field": "task", "type": "ordinal", "scale": {"paddingInner": 0, "paddingOuter": 0}, "axis": {"title": null, "labelAngle": -30, "labelAlign": "right", "labelBaseline": "top", "labelFontSize": 10.5, "labelExpr": "'Task ' + datum.value"}},
      "y": {"field": "src", "type": "nominal", "sort": ["ImageNet","Omniglot","Aircraft","Birds","Textures","Quick Draw","Fungi","VGG Flower"], "scale": {"paddingInner": 0, "paddingOuter": 0}, "axis": {"title": "Domain for DSP", "titlePadding": 6}}
    },
    "layer": [
      {"mark": {"type": "rect"}, "encoding": {"color": {"field": "v", "type": "quantitative",
        "scale": {"domain": [0,0.125,0.25,0.375,0.5,0.625,0.75,0.875,1], "range": ["#f7fbff","#deebf7","#c6dbef","#9ecae1","#6baed6","#4292c6","#2171b5","#08519c","#08306b"]},
        "legend": {"orient": "none", "legendX": 540, "legendY": 45, "title": null, "direction": "vertical", "gradientLength": 137, "gradientThickness": 6, "gradientStrokeWidth": 0, "values": [0,0.2,0.4,0.6,0.8,1], "format": ".1f", "labelFontSize": 9, "labelOffset": 5}}}},
      {"mark": {"type": "text", "fontSize": 9.5, "font": "DejaVu Sans"}, "encoding": {"text": {"field": "v", "type": "quantitative", "format": ".3f"}, "color": {"condition": {"test": "datum.v > 0.45", "value": "#ffffff"}, "value": "#262626"}}}
    ]
  }
},
{
  "data": {"name": "d"},
  "facet": {"column": {"field": "tgt", "type": "nominal", "sort": ["MNIST","CIFAR-10","CIFAR-100"], "title": "(d)",
    "header": {"labelOrient": "bottom", "labelFont": "DejaVu Sans", "labelFontSize": 14, "labelColor": "#000", "labelPadding": 16,
               "titleOrient": "bottom", "titleFont": "Liberation Serif", "titleFontSize": 22, "titleFontWeight": "normal", "titleColor": "#000", "titlePadding": 12}}},
  "spacing": 7,
  "spec": {
    "width": 158, "height": 224,
    "encoding": {
      "x": {"field": "task", "type": "ordinal", "scale": {"paddingInner": 0, "paddingOuter": 0}, "axis": {"title": null, "labelAngle": -30, "labelAlign": "right", "labelBaseline": "top", "labelFontSize": 10.5, "labelExpr": "'Task ' + datum.value"}},
      "y": {"field": "src", "type": "nominal", "sort": ["ImageNet","Omniglot","Aircraft","Birds","Textures","Quick Draw","Fungi","VGG Flower"], "scale": {"paddingInner": 0, "paddingOuter": 0}, "axis": {"title": "Domain for DSP", "titlePadding": 6}}
    },
    "layer": [
      {"mark": {"type": "rect"}, "encoding": {"color": {"field": "v", "type": "quantitative",
        "scale": {"domain": [0,0.125,0.25,0.375,0.5,0.625,0.75,0.875,1], "range": ["#f7fbff","#deebf7","#c6dbef","#9ecae1","#6baed6","#4292c6","#2171b5","#08519c","#08306b"]},
        "legend": {"orient": "none", "legendX": 547, "legendY": 45, "title": null, "direction": "vertical", "gradientLength": 137, "gradientThickness": 6, "gradientStrokeWidth": 0, "values": [0,0.2,0.4,0.6,0.8,1], "format": ".1f", "labelFontSize": 9, "labelOffset": 5}}}},
      {"mark": {"type": "text", "fontSize": 9.5, "font": "DejaVu Sans"}, "encoding": {"text": {"field": "v", "type": "quantitative", "format": ".3f"}, "color": {"condition": {"test": "datum.v > 0.45", "value": "#ffffff"}, "value": "#262626"}}}
    ]
  }
}
],
"resolve": {"scale": {"color": "independent"}, "legend": {"color": "independent"}}
}
